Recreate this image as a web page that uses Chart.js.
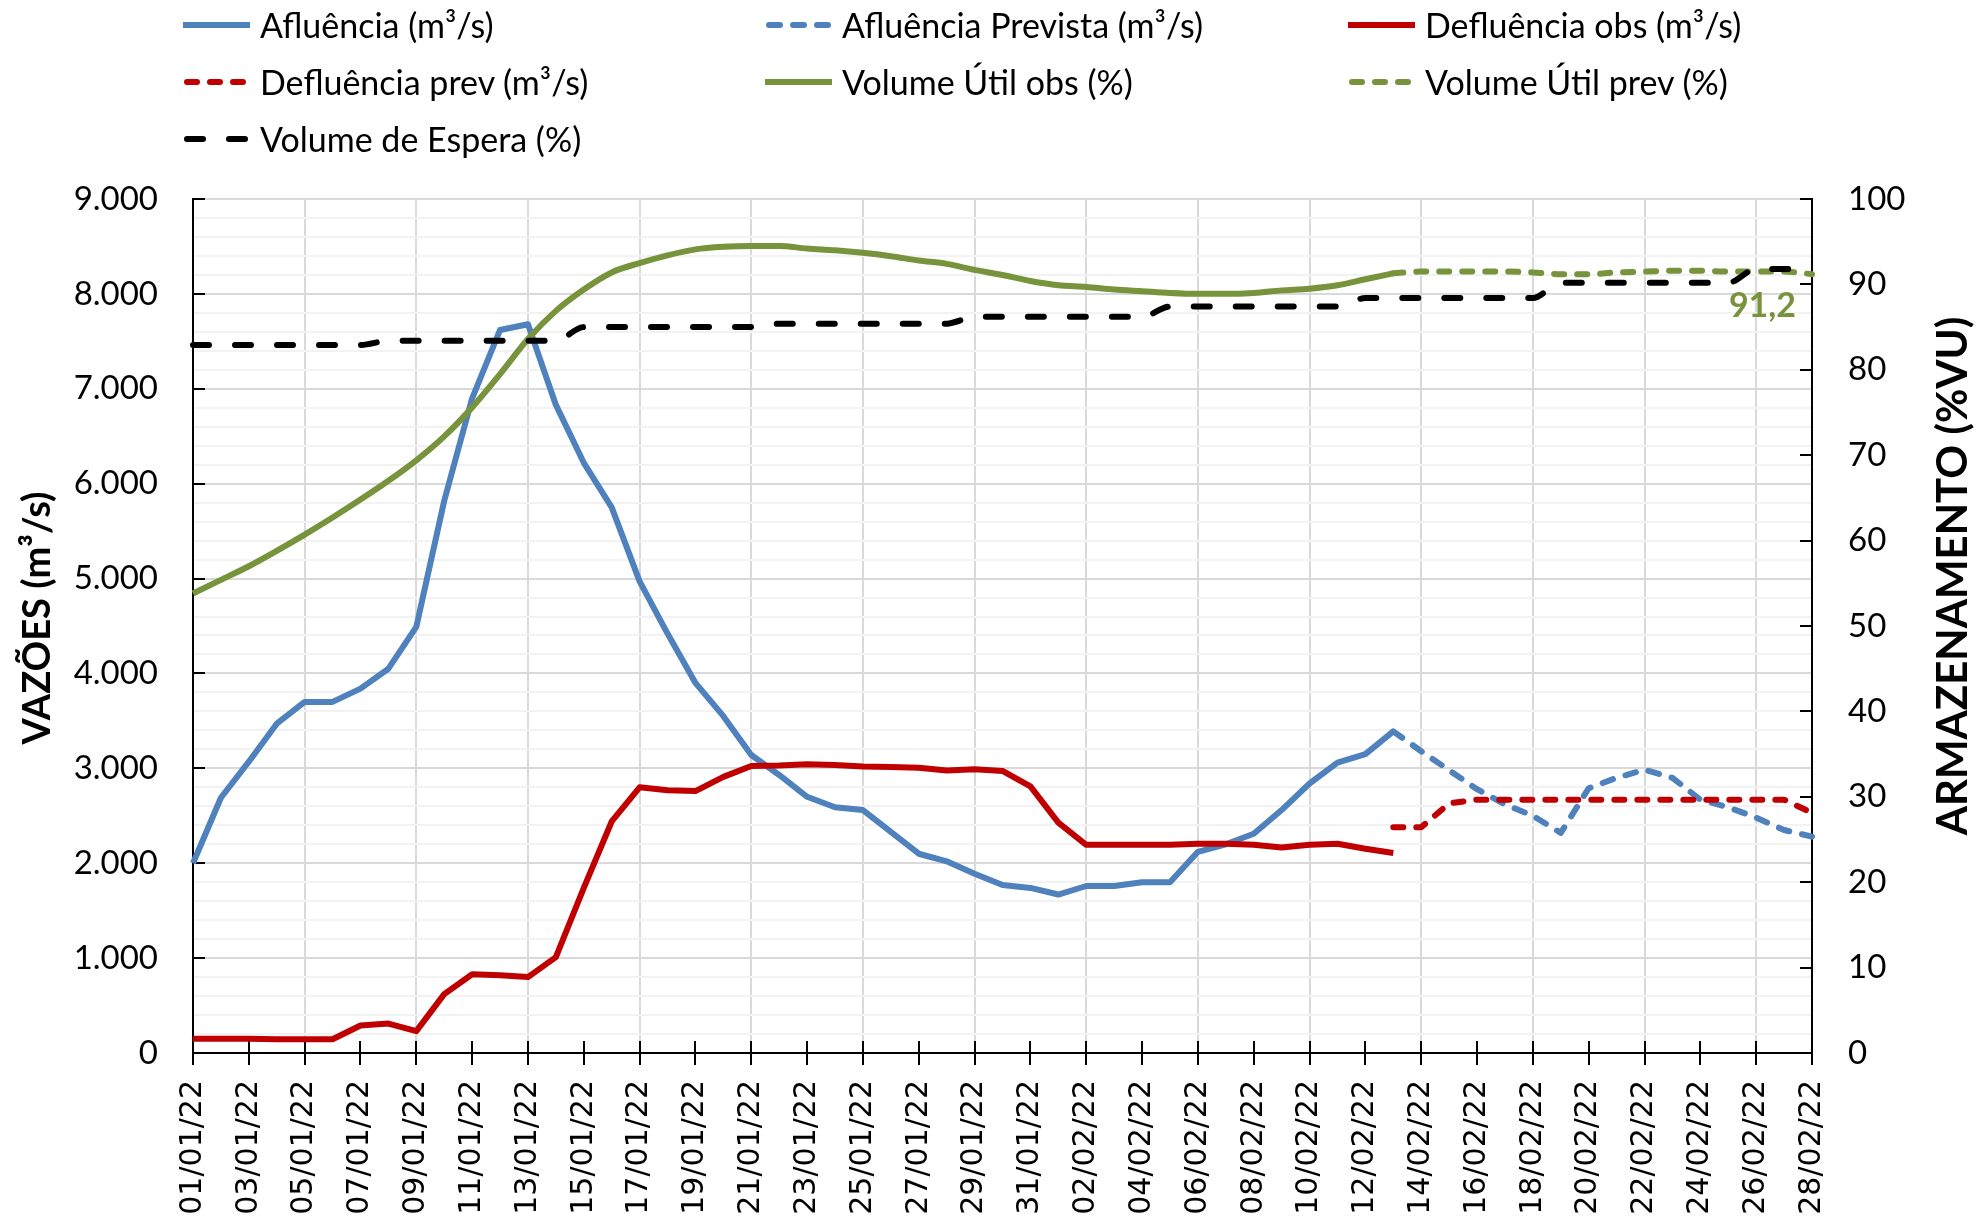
<!DOCTYPE html>
<html>
<head>
<meta charset="utf-8">
<script src="https://cdn.jsdelivr.net/npm/chart.js@4.4.0/dist/chart.umd.min.js"></script>
<style>
  html, body { margin: 0; padding: 0; background: #fff; }
  #wrap { position: relative; width: 1982px; height: 1223px; overflow: hidden; }
  #myChart { position: absolute; left: 0; top: 0; }
  #legend {
    position: absolute; left: 183px; top: -4px;
    display: grid; grid-template-columns: 582px 583px 520px; grid-auto-rows: 57px;
    font-family: Lato, "Open Sans", sans-serif; font-size: 34px; color: #000;
  }
  .item { display: flex; align-items: center; white-space: nowrap; }
  .item svg { margin-right: 10px; flex: none; }
</style>
</head>
<body>
<div id="wrap">
  <canvas id="myChart" width="1982" height="1223"></canvas>
  <div id="legend"></div>
</div>
<script>
var categories = [
  '01/01/22', '02/01/22', '03/01/22', '04/01/22', '05/01/22', '06/01/22', '07/01/22', '08/01/22', '09/01/22', '10/01/22',
  '11/01/22', '12/01/22', '13/01/22', '14/01/22', '15/01/22', '16/01/22', '17/01/22', '18/01/22', '19/01/22', '20/01/22',
  '21/01/22', '22/01/22', '23/01/22', '24/01/22', '25/01/22', '26/01/22', '27/01/22', '28/01/22', '29/01/22', '30/01/22',
  '31/01/22', '01/02/22', '02/02/22', '03/02/22', '04/02/22', '05/02/22', '06/02/22', '07/02/22', '08/02/22', '09/02/22',
  '10/02/22', '11/02/22', '12/02/22', '13/02/22', '14/02/22', '15/02/22', '16/02/22', '17/02/22', '18/02/22', '19/02/22',
  '20/02/22', '21/02/22', '22/02/22', '23/02/22', '24/02/22', '25/02/22', '26/02/22', '27/02/22', '28/02/22'
];

// vazões (m³/s), observado ate 13/02, previsto a partir de 13/02
var afluencia = [
  2000, 2690, 3070, 3470, 3700, 3700, 3840, 4050, 4490, 5820,
  6900, 7620, 7680, 6830, 6220, 5750, 4970, 4420, 3900, 3550,
  3140, 2930, 2700, 2590, 2560, 2330, 2100, 2020, 1890, 1770,
  1740, 1670, 1760, 1760, 1800, 1800, 2120, 2200, 2310, 2560,
  2840, 3060, 3150, 3390, null, null, null, null, null, null,
  null, null, null, null, null, null, null, null, null
];
var afluenciaPrev = [
  null, null, null, null, null, null, null, null, null, null,
  null, null, null, null, null, null, null, null, null, null,
  null, null, null, null, null, null, null, null, null, null,
  null, null, null, null, null, null, null, null, null, null,
  null, null, null, 3390, 3180, 2980, 2780, 2620, 2500, 2320,
  2790, 2900, 2985, 2900, 2670, 2590, 2480, 2350, 2280
];
var defluencia = [
  150, 150, 150, 145, 145, 145, 290, 310, 230, 620,
  830, 820, 800, 1010, 1740, 2440, 2800, 2770, 2760, 2910,
  3025, 3030, 3043, 3035, 3020, 3015, 3007, 2977, 2990, 2973,
  2809, 2428, 2194, 2194, 2194, 2194, 2206, 2206, 2194, 2165,
  2195, 2206, 2153, 2107, null, null, null, null, null, null,
  null, null, null, null, null, null, null, null, null
];
var defluenciaPrev = [
  null, null, null, null, null, null, null, null, null, null,
  null, null, null, null, null, null, null, null, null, null,
  null, null, null, null, null, null, null, null, null, null,
  null, null, null, null, null, null, null, null, null, null,
  null, null, null, 2380, 2380, 2630, 2670, 2670, 2670, 2670,
  2670, 2670, 2670, 2670, 2670, 2670, 2670, 2670, 2530
];

// armazenamento (%VU)
var volumeUtil = [
  53.8, 55.4, 57.0, 58.8, 60.7, 62.7, 64.8, 67.0, 69.4, 72.2,
  75.6, 79.5, 83.6, 86.9, 89.4, 91.4, 92.5, 93.4, 94.1, 94.4,
  94.5, 94.5, 94.2, 94.0, 93.7, 93.3, 92.8, 92.4, 91.7, 91.1,
  90.4, 89.9, 89.7, 89.4, 89.2, 89.0, 88.9, 88.9, 89.0, 89.3,
  89.5, 89.9, 90.6, 91.3, null, null, null, null, null, null,
  null, null, null, null, null, null, null, null, null
];
var volumeUtilPrev = [
  null, null, null, null, null, null, null, null, null, null,
  null, null, null, null, null, null, null, null, null, null,
  null, null, null, null, null, null, null, null, null, null,
  null, null, null, null, null, null, null, null, null, null,
  null, null, null, 91.3, 91.5, 91.5, 91.5, 91.5, 91.4, 91.2,
  91.2, 91.4, 91.5, 91.6, 91.6, 91.5, 91.5, 91.5, 91.2
];
var volumeEspera = [
  82.9, 82.9, 82.9, 82.9, 82.9, 82.9, 82.9, 83.4, 83.4, 83.4,
  83.4, 83.4, 83.4, 83.4, 85.0, 85.0, 85.0, 85.0, 85.0, 85.0,
  85.0, 85.4, 85.4, 85.4, 85.4, 85.4, 85.4, 85.4, 86.2, 86.2,
  86.2, 86.2, 86.2, 86.2, 86.2, 87.4, 87.4, 87.4, 87.4, 87.4,
  87.4, 87.4, 88.4, 88.4, 88.4, 88.4, 88.4, 88.4, 88.4, 90.2,
  90.2, 90.2, 90.2, 90.2, 90.2, 90.2, 91.8, 91.8, 91.7
];

var leftTicks = [0, 1000, 2000, 3000, 4000, 5000, 6000, 7000, 8000, 9000];
var rightTicks = [0, 10, 20, 30, 40, 50, 60, 70, 80, 90, 100];

var BLUE = '#4f81bd', RED = '#c00000', GREEN = '#77933c';
var FONT = 'Lato, "Open Sans", sans-serif';

function fmtMil(v) {
  return String(v).replace(/\B(?=(\d{3})+(?!\d))/g, '.');
}

function serie(label, data, color, axis, dash, smooth) {
  return {
    label: label,
    data: data,
    yAxisID: axis,
    borderColor: color,
    backgroundColor: color,
    borderWidth: 6,
    borderDash: dash || [],
    borderCapStyle: dash ? 'round' : 'butt',
    borderJoinStyle: 'round',
    pointRadius: 0,
    tension: 0,
    cubicInterpolationMode: smooth ? 'monotone' : 'default',
    fill: false
  };
}

var datasets = [
  serie('Afluência (m³/s)', afluencia, BLUE, 'y'),
  serie('Afluência Prevista (m³/s)', afluenciaPrev, BLUE, 'y', [11, 13]),
  serie('Defluência obs (m³/s)', defluencia, RED, 'y'),
  serie('Defluência prev (m³/s)', defluenciaPrev, RED, 'y', [10, 13]),
  serie('Volume Útil obs (%)', volumeUtil, GREEN, 'y1', null, true),
  serie('Volume Útil prev (%)', volumeUtilPrev, GREEN, 'y1', [10, 13], true),
  serie('Volume de Espera (%)', volumeEspera, '#000', 'y1', [16, 26], true)
];
// as ultimas series ficam por cima, como no Excel
datasets.forEach(function (d, i) { d.order = datasets.length - i; });

// legenda em 3 colunas
var legendDiv = document.getElementById('legend');
datasets.forEach(function (d) {
  var dash = d.borderDash.length ? ' stroke-dasharray="' + d.borderDash.join(' ') + '" stroke-linecap="round"' : '';
  var x1 = d.borderDash.length ? 4 : 0, x2 = d.borderDash.length ? 63 : 67;
  legendDiv.innerHTML += '<div class="item"><svg width="67" height="12"><line x1="' + x1 + '" y1="6" x2="' + x2 +
    '" y2="6" stroke="' + d.borderColor + '" stroke-width="6"' + dash + '/></svg><span>' + d.label + '</span></div>';
});

var extras = {
  id: 'extras',
  beforeDatasetsDraw: function (chart) {
    var ctx = chart.ctx, a = chart.chartArea;
    var sx = chart.scales.x, sy = chart.scales.y, sy1 = chart.scales.y1;
    ctx.save();
    ctx.strokeStyle = '#000';
    ctx.lineWidth = 2;
    ctx.beginPath();
    categories.forEach(function (c, i) {
      if (i % 2 !== 0) return;
      var px = Math.round(sx.getPixelForValue(i));
      ctx.moveTo(px, a.bottom - 12);
      ctx.lineTo(px, a.bottom + 12);
    });
    leftTicks.forEach(function (v) {
      var py = Math.round(sy.getPixelForValue(v));
      ctx.moveTo(a.left, py);
      ctx.lineTo(a.left + 12, py);
    });
    rightTicks.forEach(function (v) {
      var py = Math.round(sy1.getPixelForValue(v));
      ctx.moveTo(a.right - 12, py);
      ctx.lineTo(a.right, py);
    });
    ctx.stroke();
    ctx.restore();
  },
  afterDatasetsDraw: function (chart) {
    var ctx = chart.ctx;
    var meta = chart.getDatasetMeta(5);
    var last = volumeUtilPrev.length - 1;
    var pt = meta.data[last];
    ctx.save();
    ctx.fillStyle = GREEN;
    ctx.font = 'bold 34px ' + FONT;
    ctx.textAlign = 'right';
    ctx.textBaseline = 'middle';
    ctx.fillText(volumeUtilPrev[last].toFixed(1).replace('.', ','), pt.x - 16, pt.y + 32);
    ctx.restore();
  },
  afterDraw: function (chart) {
    var ctx = chart.ctx;
    // titulos dos eixos, ambos girados -90 como no Excel
    function vtitle(text, x, y, size) {
      ctx.save();
      ctx.translate(x, y);
      ctx.rotate(-Math.PI / 2);
      ctx.fillStyle = '#000';
      ctx.font = 'bold ' + size + 'px ' + FONT;
      ctx.textAlign = 'center';
      ctx.textBaseline = 'middle';
      ctx.fillText(text, 0, 0);
      ctx.restore();
    }
    vtitle('VAZÕES (m³/s)', 38, 618, 38);
    vtitle('ARMAZENAMENTO (%VU)', 1953, 576, 42);
  }
};

Chart.defaults.color = '#000';

var ctx = document.getElementById('myChart');
var myChart = new Chart(ctx, {
  type: 'line',
  data: { labels: categories, datasets: datasets },
  options: {
    responsive: false,
    animation: false,
    devicePixelRatio: 1,
    layout: { padding: { top: 199, left: 0, right: 0, bottom: 0 } },
    plugins: { legend: { display: false }, tooltip: { enabled: false } },
    scales: {
      x: {
        afterFit: function (s) { s.height = 170; },
        border: { color: '#000', width: 2 },
        grid: {
          drawTicks: false,
          lineWidth: 2,
          color: function (c) { return c.index % 2 === 0 ? '#d9d9d9' : 'rgba(0,0,0,0)'; }
        },
        ticks: {
          autoSkip: false,
          minRotation: 90,
          maxRotation: 90,
          padding: 27,
          font: { family: '"DejaVu Sans"', size: 30 },
          callback: function (v, i) { return i % 2 === 0 ? categories[i] : null; }
        }
      },
      y: {
        position: 'left',
        min: 0,
        max: 9000,
        afterFit: function (s) { s.width = 193; },
        border: { color: '#000', width: 2 },
        grid: {
          drawTicks: false,
          lineWidth: 2,
          color: function (c) { return c.tick.value % 1000 === 0 ? '#d9d9d9' : '#f2f2f2'; }
        },
        ticks: {
          stepSize: 200,
          autoSkip: false,
          padding: 35,
          font: { family: FONT, size: 33 },
          callback: function (v) { return leftTicks.indexOf(v) >= 0 ? fmtMil(v) : ''; }
        }
      },
      y1: {
        position: 'right',
        min: 0,
        max: 100,
        afterFit: function (s) { s.width = 170; },
        border: { color: '#000', width: 2 },
        grid: { drawOnChartArea: false, drawTicks: false },
        ticks: {
          stepSize: 10,
          padding: 36,
          font: { family: FONT, size: 33 }
        }
      }
    }
  },
  plugins: [extras]
});
</script>
</body>
</html>
